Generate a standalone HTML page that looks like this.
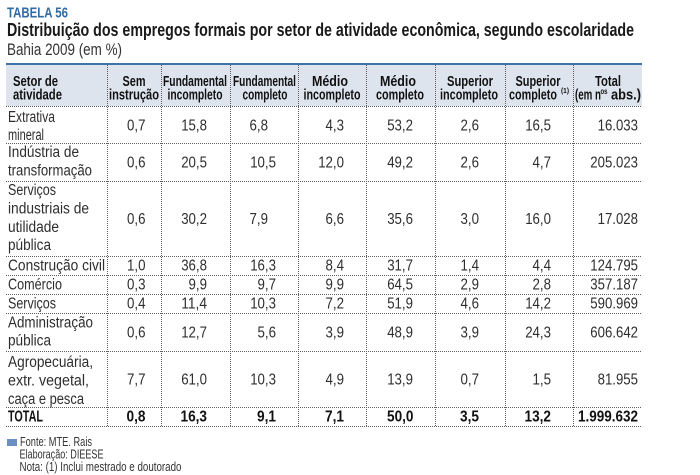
<!DOCTYPE html>
<html>
<head>
<meta charset="utf-8">
<style>
  html,body{margin:0;padding:0;background:#fff;}
  svg{display:block;}
  text{font-family:"Liberation Sans", Arial, sans-serif;}
  .b{font-size:15.5px;fill:#2e2e2e;}
  .n{font-size:15.5px;fill:#2e2e2e;text-anchor:end;}
  .nb{font-size:15.5px;fill:#111;text-anchor:end;font-weight:bold;}
  .h{font-size:15px;font-weight:bold;fill:#111;}
  .hc{font-size:15px;font-weight:bold;fill:#111;text-anchor:middle;}
  .f{font-size:13px;fill:#333;}
  .dl{stroke:#5e5e5e;stroke-width:1;stroke-dasharray:1 1;fill:none;}
</style>
</head>
<body>
<svg width="700" height="475" viewBox="0 0 700 475" xmlns="http://www.w3.org/2000/svg">
  <rect x="0" y="0" width="700" height="475" fill="#fff"/>

  <!-- Titles -->
  <text x="7" y="17.5" font-size="15" font-weight="bold" fill="#2f6ca6" textLength="61" lengthAdjust="spacingAndGlyphs">TABELA 56</text>
  <text x="7" y="36" font-size="18.5" font-weight="bold" fill="#1a1a1a" textLength="627" lengthAdjust="spacingAndGlyphs">Distribuição dos empregos formais por setor de atividade econômica, segundo escolaridade</text>
  <text x="7" y="55" font-size="16.5" fill="#333" textLength="115" lengthAdjust="spacingAndGlyphs">Bahia 2009 (em %)</text>

  <!-- Header background -->
  <rect x="6" y="64" width="636" height="42" fill="#dde4ed"/>
  <rect x="6" y="63" width="636" height="2" fill="#3f72a6"/>

  <!-- Header text -->
  <text class="h" x="13" y="86" textLength="45" lengthAdjust="spacingAndGlyphs">Setor de</text>
  <text class="h" x="13" y="99.5" textLength="49" lengthAdjust="spacingAndGlyphs">atividade</text>

  <text class="hc" x="134" y="86" textLength="23" lengthAdjust="spacingAndGlyphs">Sem</text>
  <text class="hc" x="134" y="99.5" textLength="50" lengthAdjust="spacingAndGlyphs">instrução</text>

  <text class="hc" x="195" y="86" textLength="64" lengthAdjust="spacingAndGlyphs">Fundamental</text>
  <text class="hc" x="195" y="99.5" textLength="55" lengthAdjust="spacingAndGlyphs">incompleto</text>

  <text class="hc" x="264.5" y="86" textLength="63" lengthAdjust="spacingAndGlyphs">Fundamental</text>
  <text class="hc" x="265" y="99.5" textLength="45" lengthAdjust="spacingAndGlyphs">completo</text>

  <text class="hc" x="330" y="86" textLength="36" lengthAdjust="spacingAndGlyphs">Médio</text>
  <text class="hc" x="332" y="99.5" textLength="57" lengthAdjust="spacingAndGlyphs">incompleto</text>

  <text class="hc" x="398" y="86" textLength="36" lengthAdjust="spacingAndGlyphs">Médio</text>
  <text class="hc" x="400" y="99.5" textLength="48" lengthAdjust="spacingAndGlyphs">completo</text>

  <text class="hc" x="470" y="86" textLength="46" lengthAdjust="spacingAndGlyphs">Superior</text>
  <text class="hc" x="469" y="99.5" textLength="58" lengthAdjust="spacingAndGlyphs">incompleto</text>

  <text class="hc" x="538" y="86" textLength="45" lengthAdjust="spacingAndGlyphs">Superior</text>
  <text class="h" x="509" y="99.5" textLength="48" lengthAdjust="spacingAndGlyphs">completo</text>
  <text x="561" y="93" font-size="7.5" font-weight="bold" fill="#111" textLength="8" lengthAdjust="spacingAndGlyphs">(1)</text>

  <text class="hc" x="608" y="86" textLength="26" lengthAdjust="spacingAndGlyphs">Total</text>
  <text class="h" x="575" y="99.5" textLength="26" lengthAdjust="spacingAndGlyphs">(em n</text>
  <text x="600.5" y="94" font-size="8" font-weight="bold" fill="#111" textLength="7" lengthAdjust="spacingAndGlyphs">os</text>
  <text class="h" x="611" y="99.5" textLength="30" lengthAdjust="spacingAndGlyphs">abs.)</text>

  <!-- Grid dotted lines -->
  <g class="dl">
    <line x1="6" y1="106.5" x2="642" y2="106.5"/>
    <line x1="6" y1="143.5" x2="642" y2="143.5"/>
    <line x1="6" y1="181.5" x2="642" y2="181.5"/>
    <line x1="6" y1="256.5" x2="642" y2="256.5"/>
    <line x1="6" y1="275.5" x2="642" y2="275.5"/>
    <line x1="6" y1="294.5" x2="642" y2="294.5"/>
    <line x1="6" y1="313.5" x2="642" y2="313.5"/>
    <line x1="6" y1="351.5" x2="642" y2="351.5"/>
    <line x1="6" y1="407.5" x2="642" y2="407.5"/>
    <line x1="6" y1="426.5" x2="642" y2="426.5"/>

    <line x1="107.5" y1="65" x2="107.5" y2="426"/>
    <line x1="161.5" y1="65" x2="161.5" y2="426"/>
    <line x1="230.5" y1="65" x2="230.5" y2="426"/>
    <line x1="298.5" y1="65" x2="298.5" y2="426"/>
    <line x1="366.5" y1="65" x2="366.5" y2="426"/>
    <line x1="435.5" y1="65" x2="435.5" y2="426"/>
    <line x1="505.5" y1="65" x2="505.5" y2="426"/>
    <line x1="573.5" y1="65" x2="573.5" y2="426"/>
  </g>

  <!-- Row labels -->
  <g class="b">
    <text x="8" y="122" textLength="47" lengthAdjust="spacingAndGlyphs">Extrativa</text>
    <text x="8" y="140" textLength="36" lengthAdjust="spacingAndGlyphs">mineral</text>

    <text x="8" y="157" textLength="71" lengthAdjust="spacingAndGlyphs">Indústria de</text>
    <text x="8" y="175.5" textLength="84" lengthAdjust="spacingAndGlyphs">transformação</text>

    <text x="8" y="195" textLength="48" lengthAdjust="spacingAndGlyphs">Serviços</text>
    <text x="8" y="213.5" textLength="81" lengthAdjust="spacingAndGlyphs">industriais de</text>
    <text x="8" y="232" textLength="51" lengthAdjust="spacingAndGlyphs">utilidade</text>
    <text x="8" y="250" textLength="43" lengthAdjust="spacingAndGlyphs">pública</text>

    <text x="8" y="270.5" textLength="97" lengthAdjust="spacingAndGlyphs">Construção civil</text>
    <text x="8" y="289.5" textLength="54" lengthAdjust="spacingAndGlyphs">Comércio</text>
    <text x="8" y="308.5" textLength="48" lengthAdjust="spacingAndGlyphs">Serviços</text>

    <text x="8" y="327.5" textLength="85" lengthAdjust="spacingAndGlyphs">Administração</text>
    <text x="8" y="345.5" textLength="43" lengthAdjust="spacingAndGlyphs">pública</text>

    <text x="8" y="367" textLength="85" lengthAdjust="spacingAndGlyphs">Agropecuária,</text>
    <text x="8" y="385.5" textLength="81" lengthAdjust="spacingAndGlyphs">extr. vegetal,</text>
    <text x="8" y="404" textLength="76" lengthAdjust="spacingAndGlyphs">caça e pesca</text>
  </g>
  <text x="8" y="421.5" font-size="15.5" font-weight="bold" fill="#111" textLength="35" lengthAdjust="spacingAndGlyphs">TOTAL</text>

  <!-- Numbers -->
  <g class="n">
    <text x="145.5" y="130.5" textLength="18.5" lengthAdjust="spacingAndGlyphs">0,7</text>
    <text x="207" y="130.5" textLength="25.8" lengthAdjust="spacingAndGlyphs">15,8</text>
    <text x="268" y="130.5" textLength="18.5" lengthAdjust="spacingAndGlyphs">6,8</text>
    <text x="344" y="130.5" textLength="18.5" lengthAdjust="spacingAndGlyphs">4,3</text>
    <text x="413" y="130.5" textLength="25.8" lengthAdjust="spacingAndGlyphs">53,2</text>
    <text x="479" y="130.5" textLength="18.5" lengthAdjust="spacingAndGlyphs">2,6</text>
    <text x="551" y="130.5" textLength="25.8" lengthAdjust="spacingAndGlyphs">16,5</text>
    <text x="638" y="130.5" textLength="40.4" lengthAdjust="spacingAndGlyphs">16.033</text>

    <text x="145.5" y="167.5" textLength="18.5" lengthAdjust="spacingAndGlyphs">0,6</text>
    <text x="207" y="167.5" textLength="25.8" lengthAdjust="spacingAndGlyphs">20,5</text>
    <text x="276" y="167.5" textLength="25.8" lengthAdjust="spacingAndGlyphs">10,5</text>
    <text x="344" y="167.5" textLength="25.8" lengthAdjust="spacingAndGlyphs">12,0</text>
    <text x="413" y="167.5" textLength="25.8" lengthAdjust="spacingAndGlyphs">49,2</text>
    <text x="479" y="167.5" textLength="18.5" lengthAdjust="spacingAndGlyphs">2,6</text>
    <text x="551" y="167.5" textLength="18.5" lengthAdjust="spacingAndGlyphs">4,7</text>
    <text x="638" y="167.5" textLength="47.7" lengthAdjust="spacingAndGlyphs">205.023</text>

    <text x="145.5" y="224" textLength="18.5" lengthAdjust="spacingAndGlyphs">0,6</text>
    <text x="207" y="224" textLength="25.8" lengthAdjust="spacingAndGlyphs">30,2</text>
    <text x="268" y="224" textLength="18.5" lengthAdjust="spacingAndGlyphs">7,9</text>
    <text x="344" y="224" textLength="18.5" lengthAdjust="spacingAndGlyphs">6,6</text>
    <text x="413" y="224" textLength="25.8" lengthAdjust="spacingAndGlyphs">35,6</text>
    <text x="479" y="224" textLength="18.5" lengthAdjust="spacingAndGlyphs">3,0</text>
    <text x="551" y="224" textLength="25.8" lengthAdjust="spacingAndGlyphs">16,0</text>
    <text x="638" y="224" textLength="40.4" lengthAdjust="spacingAndGlyphs">17.028</text>

    <text x="145.5" y="270.5" textLength="18.5" lengthAdjust="spacingAndGlyphs">1,0</text>
    <text x="207" y="270.5" textLength="25.8" lengthAdjust="spacingAndGlyphs">36,8</text>
    <text x="276" y="270.5" textLength="25.8" lengthAdjust="spacingAndGlyphs">16,3</text>
    <text x="344" y="270.5" textLength="18.5" lengthAdjust="spacingAndGlyphs">8,4</text>
    <text x="413" y="270.5" textLength="25.8" lengthAdjust="spacingAndGlyphs">31,7</text>
    <text x="479" y="270.5" textLength="18.5" lengthAdjust="spacingAndGlyphs">1,4</text>
    <text x="551" y="270.5" textLength="18.5" lengthAdjust="spacingAndGlyphs">4,4</text>
    <text x="638" y="270.5" textLength="47.7" lengthAdjust="spacingAndGlyphs">124.795</text>

    <text x="145.5" y="289.5" textLength="18.5" lengthAdjust="spacingAndGlyphs">0,3</text>
    <text x="207" y="289.5" textLength="18.5" lengthAdjust="spacingAndGlyphs">9,9</text>
    <text x="276" y="289.5" textLength="18.5" lengthAdjust="spacingAndGlyphs">9,7</text>
    <text x="344" y="289.5" textLength="18.5" lengthAdjust="spacingAndGlyphs">9,9</text>
    <text x="413" y="289.5" textLength="25.8" lengthAdjust="spacingAndGlyphs">64,5</text>
    <text x="479" y="289.5" textLength="18.5" lengthAdjust="spacingAndGlyphs">2,9</text>
    <text x="551" y="289.5" textLength="18.5" lengthAdjust="spacingAndGlyphs">2,8</text>
    <text x="638" y="289.5" textLength="47.7" lengthAdjust="spacingAndGlyphs">357.187</text>

    <text x="145.5" y="308.5" textLength="18.5" lengthAdjust="spacingAndGlyphs">0,4</text>
    <text x="207" y="308.5" textLength="25.8" lengthAdjust="spacingAndGlyphs">11,4</text>
    <text x="276" y="308.5" textLength="25.8" lengthAdjust="spacingAndGlyphs">10,3</text>
    <text x="344" y="308.5" textLength="18.5" lengthAdjust="spacingAndGlyphs">7,2</text>
    <text x="413" y="308.5" textLength="25.8" lengthAdjust="spacingAndGlyphs">51,9</text>
    <text x="479" y="308.5" textLength="18.5" lengthAdjust="spacingAndGlyphs">4,6</text>
    <text x="551" y="308.5" textLength="25.8" lengthAdjust="spacingAndGlyphs">14,2</text>
    <text x="638" y="308.5" textLength="47.7" lengthAdjust="spacingAndGlyphs">590.969</text>

    <text x="145.5" y="337.5" textLength="18.5" lengthAdjust="spacingAndGlyphs">0,6</text>
    <text x="207" y="337.5" textLength="25.8" lengthAdjust="spacingAndGlyphs">12,7</text>
    <text x="276" y="337.5" textLength="18.5" lengthAdjust="spacingAndGlyphs">5,6</text>
    <text x="344" y="337.5" textLength="18.5" lengthAdjust="spacingAndGlyphs">3,9</text>
    <text x="413" y="337.5" textLength="25.8" lengthAdjust="spacingAndGlyphs">48,9</text>
    <text x="479" y="337.5" textLength="18.5" lengthAdjust="spacingAndGlyphs">3,9</text>
    <text x="551" y="337.5" textLength="25.8" lengthAdjust="spacingAndGlyphs">24,3</text>
    <text x="638" y="337.5" textLength="47.7" lengthAdjust="spacingAndGlyphs">606.642</text>

    <text x="145.5" y="384.5" textLength="18.5" lengthAdjust="spacingAndGlyphs">7,7</text>
    <text x="207" y="384.5" textLength="25.8" lengthAdjust="spacingAndGlyphs">61,0</text>
    <text x="276" y="384.5" textLength="25.8" lengthAdjust="spacingAndGlyphs">10,3</text>
    <text x="344" y="384.5" textLength="18.5" lengthAdjust="spacingAndGlyphs">4,9</text>
    <text x="413" y="384.5" textLength="25.8" lengthAdjust="spacingAndGlyphs">13,9</text>
    <text x="479" y="384.5" textLength="18.5" lengthAdjust="spacingAndGlyphs">0,7</text>
    <text x="551" y="384.5" textLength="18.5" lengthAdjust="spacingAndGlyphs">1,5</text>
    <text x="638" y="384.5" textLength="40.4" lengthAdjust="spacingAndGlyphs">81.955</text>
  </g>
  <g class="nb">
    <text x="145.5" y="421.5" textLength="19" lengthAdjust="spacingAndGlyphs">0,8</text>
    <text x="207" y="421.5" textLength="26.5" lengthAdjust="spacingAndGlyphs">16,3</text>
    <text x="276" y="421.5" textLength="19" lengthAdjust="spacingAndGlyphs">9,1</text>
    <text x="344" y="421.5" textLength="19" lengthAdjust="spacingAndGlyphs">7,1</text>
    <text x="413.5" y="421.5" textLength="26.5" lengthAdjust="spacingAndGlyphs">50,0</text>
    <text x="479" y="421.5" textLength="19" lengthAdjust="spacingAndGlyphs">3,5</text>
    <text x="551" y="421.5" textLength="26.5" lengthAdjust="spacingAndGlyphs">13,2</text>
    <text x="638" y="421.5" textLength="60" lengthAdjust="spacingAndGlyphs">1.999.632</text>
  </g>

  <!-- Footer -->
  <rect x="7" y="439" width="10" height="7" fill="#6b8fbf"/>
  <text class="f" x="20" y="446" textLength="72" lengthAdjust="spacingAndGlyphs">Fonte: MTE. Rais</text>
  <text class="f" x="19.5" y="458.5" textLength="84" lengthAdjust="spacingAndGlyphs">Elaboração: DIEESE</text>
  <text class="f" x="19.5" y="471" textLength="162" lengthAdjust="spacingAndGlyphs">Nota: (1) Inclui mestrado e doutorado</text>
</svg>
</body>
</html>
